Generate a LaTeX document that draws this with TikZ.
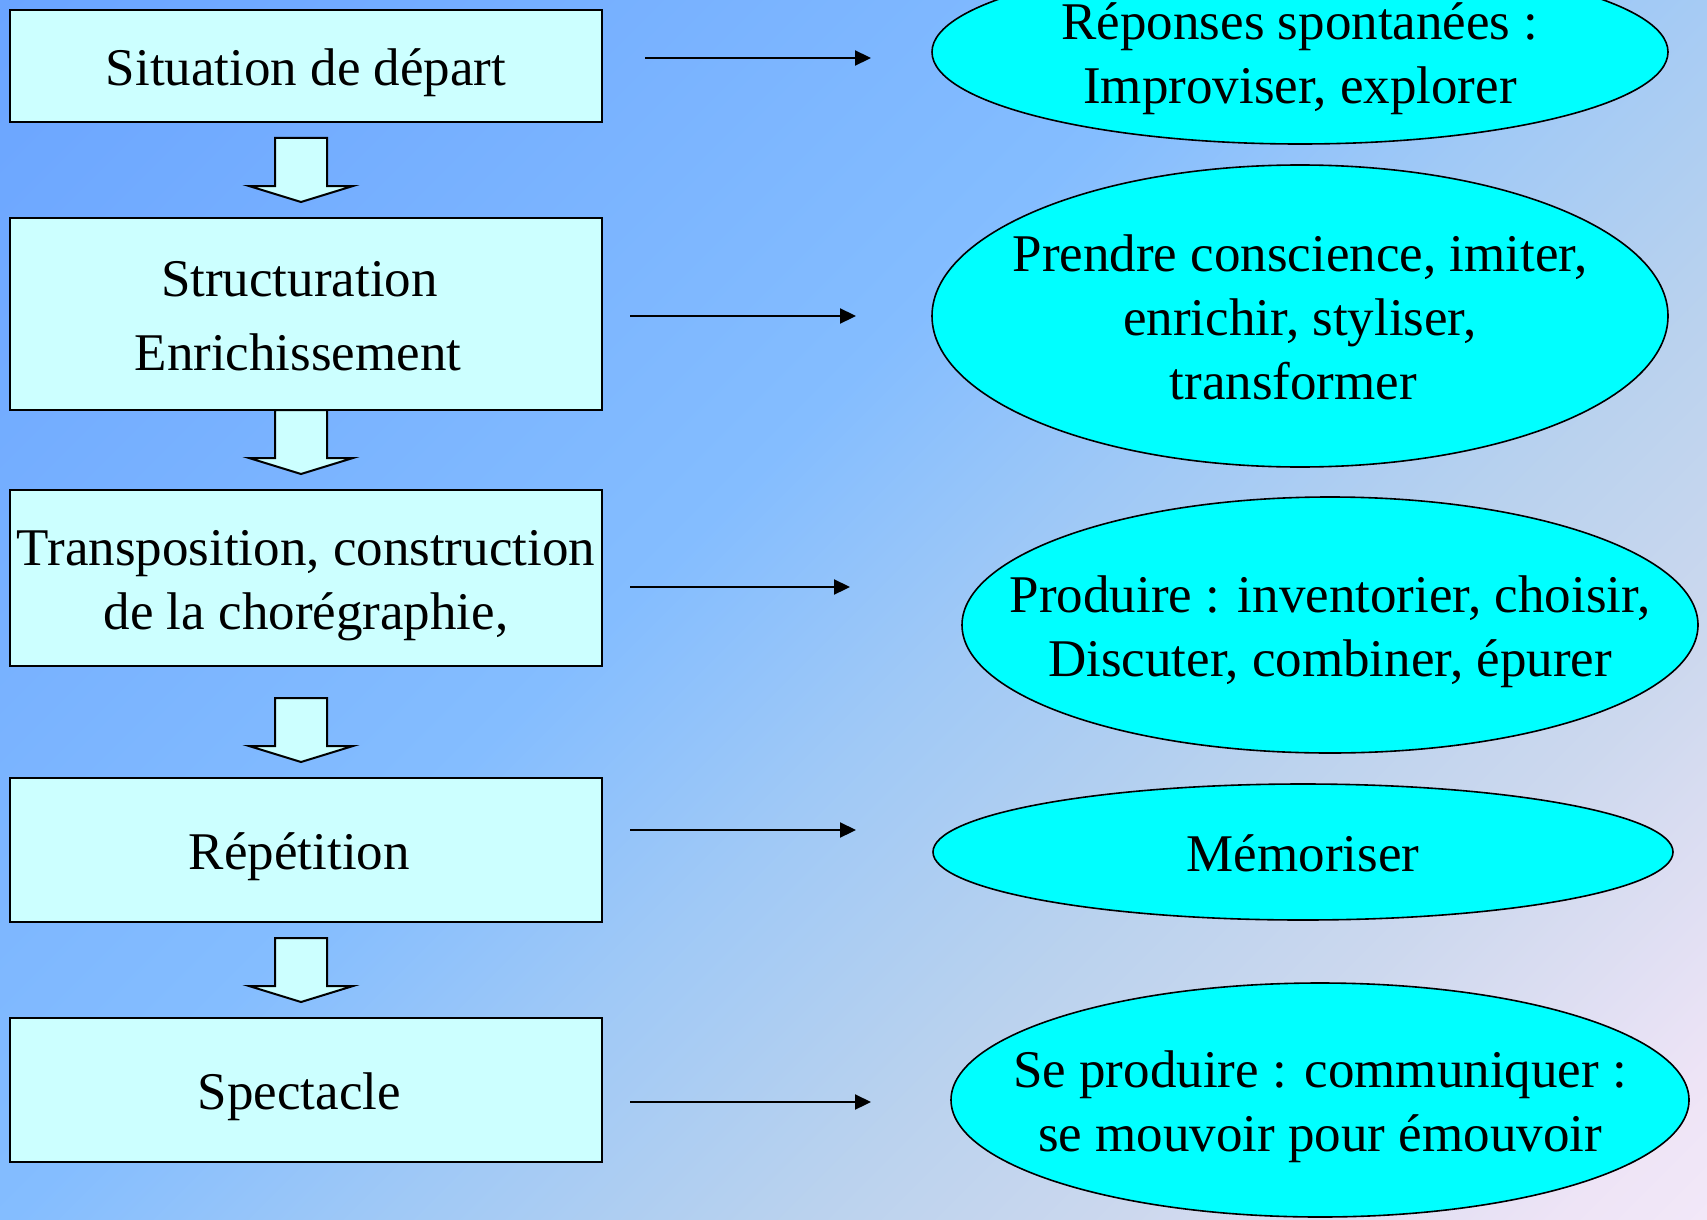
\documentclass[tikz,border=0pt]{standalone}
\usepackage{fontspec}
\setmainfont{Liberation Serif}
\usepackage{tikz}
\usetikzlibrary{shapes.geometric,arrows.meta}
\definecolor{bga}{HTML}{6AA4FF}
\definecolor{bgb}{HTML}{84BDFF}
\definecolor{bgc}{HTML}{A0C9F6}
\definecolor{bgd}{HTML}{BAD2EE}
\definecolor{bge}{HTML}{CCD8EE}
\definecolor{bgf}{HTML}{EEE4F6}
\definecolor{bgg}{HTML}{F2E8F8}
\definecolor{boxfill}{HTML}{CCFFFF}
\definecolor{ellfill}{HTML}{00FFFF}
\pgfdeclarehorizontalshading{fond}{100bp}{color(0bp)=(bga); color(25bp)=(bga);
  color(46bp)=(bgb); color(52.5bp)=(bgc); color(59.5bp)=(bgd); color(65bp)=(bge);
  color(72.5bp)=(bgf); color(75bp)=(bgg); color(100bp)=(bgg)}
% text of a node, a bit lower and kept out of the node size
\newcommand{\lignes}[1]{\raisebox{-3.5pt}[\height][\depth]{\makebox[0pt]{\begin{tabular}{@{}c@{}}#1\end{tabular}}}}

\begin{document}
\begin{tikzpicture}[x=0.5pt,y=-0.5pt,
    >={Triangle[length=8pt,width=7.5pt]},
    etape/.style={draw,line width=1pt,fill=boxfill,minimum width=296pt,inner sep=0pt},
    reponse/.style={ellipse,draw,line width=0.8pt,fill=ellfill,inner sep=0pt},
    fleche/.style={draw,line width=1pt,fill=boxfill,line join=miter},
    lien/.style={->,line width=1.1pt},
    font=\fontsize{26.5}{32}\selectfont]
    \useasboundingbox (0,0) rectangle (1707,1220);
    % background, shaded along the diagonal
    \begin{scope}
      \clip (0,0) rectangle (1707,1220);
      \begin{scope}[transform canvas={rotate=-45}]
        \shade[shading=fond] (0,-1207) rectangle (2070,863);
      \end{scope}
    \end{scope}

    % the steps
    \node[etape,minimum height=56pt] (s1) at (306,66) {\lignes{Situation de départ}};
    \node[etape,minimum height=96pt] (s2) at (306,314) {\lignes{Structuration\kern.25em\\[5pt]Enrichissement\kern.3em}};
    \node[etape,minimum height=88pt] (s3) at (306,578) {\lignes{Transposition, construction\\de la chorégraphie,}};
    \node[etape,minimum height=72pt] (s4) at (306,850) {\lignes{Répétition\kern.25em}};
    \node[etape,minimum height=72pt] (s5) at (306,1090) {\lignes{Spectacle\kern.25em}};

    % block arrows between the steps
    \foreach \t in {138,410,698,938}
      \draw[fleche] (275,\t) -- (327,\t) -- (327,\t+48) -- (353,\t+48) -- (301,\t+64)
        -- (249,\t+48) -- (275,\t+48) -- cycle;

    % what is asked at each step
    \node[reponse,minimum width=368pt,minimum height=92pt] (r1) at (1300,52)
      {\lignes{Réponses spontanées :\\Improviser, explorer}};
    \node[reponse,minimum width=368pt,minimum height=151pt] (r2) at (1300,316)
      {\lignes{Prendre conscience, imiter,\\enrichir, styliser,\\transformer\kern.25em}};
    \node[reponse,minimum width=368pt,minimum height=128pt] (r3) at (1330,625)
      {\lignes{Produire : inventorier, choisir,\\Discuter, combiner, épurer}};
    \node[reponse,minimum width=370pt,minimum height=68pt] (r4) at (1303,852)
      {\lignes{Mémoriser}};
    \node[reponse,minimum width=369pt,minimum height=117pt] (r5) at (1320,1100)
      {\lignes{Se produire : communiquer :\\se mouvoir pour émouvoir}};

    % arrow ends
    \coordinate (t1) at (871,58);
    \coordinate (t2) at (856,316);
    \coordinate (t3) at (850,587);
    \coordinate (t4) at (856,830);
    \coordinate (t5) at (871,1102);

    \draw[lien,shorten <=21pt] (s1.east |- t1) -- (t1);
    \draw[lien,shorten <=13.5pt] (s2.east |- t2) -- (t2);
    \draw[lien,shorten <=13.5pt] (s3.east |- t3) -- (t3);
    \draw[lien,shorten <=13.5pt] (s4.east |- t4) -- (t4);
    \draw[lien,shorten <=13.5pt] (s5.east |- t5) -- (t5);
\end{tikzpicture}
\end{document}
